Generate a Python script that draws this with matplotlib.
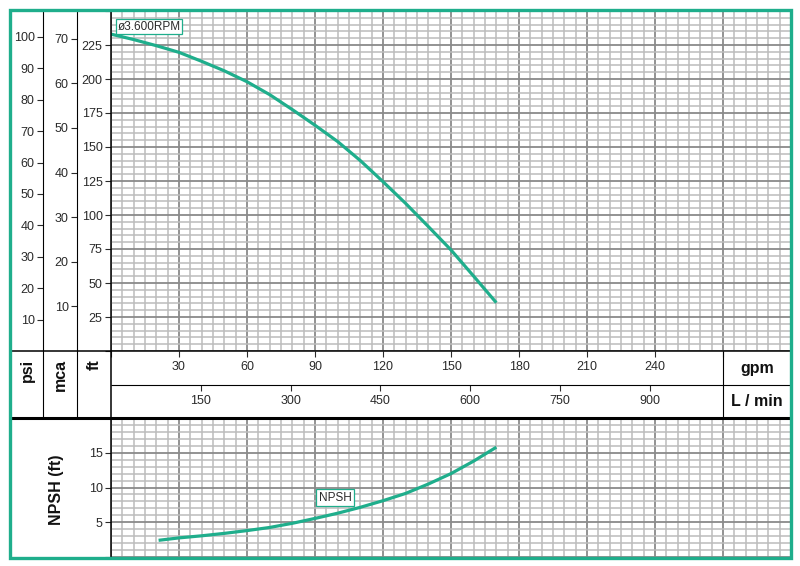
import matplotlib
matplotlib.use("Agg")
import matplotlib.pyplot as plt
from matplotlib.lines import Line2D
from matplotlib.patches import Rectangle
from matplotlib.ticker import MultipleLocator, FuncFormatter

plt.rcParams['font.family'] = ['Liberation Sans', 'DejaVu Sans']

# pump curve (flow in gpm, head in ft)
head_gpm = [0, 10, 20, 30, 40, 50, 60, 70, 80, 90, 100, 110, 120, 130, 140, 150, 160, 170]
head_ft = [233, 229, 224.5, 219.6, 213, 206, 198, 188.5, 177.5, 166, 154, 140, 124.5,
           108.5, 91.5, 74.3, 55, 35.5]
curve_label = "ø3.600RPM"

# NPSH curve (flow in gpm, NPSH in ft)
npsh_gpm = [21, 30, 40, 50, 60, 70, 80, 90, 100, 110, 120, 130, 140, 150, 160, 170]
npsh_ft = [2.4, 2.75, 3.05, 3.4, 3.8, 4.25, 4.85, 5.55, 6.3, 7.15, 8.1, 9.15, 10.5,
           12.0, 13.8, 15.8]

gpm_ticks = [30, 60, 90, 120, 150, 180, 210, 240]
lmin_ticks = [150, 300, 450, 600, 750, 900]
ft_ticks = [25, 50, 75, 100, 125, 150, 175, 200, 225]
psi_ticks = [10, 20, 30, 40, 50, 60, 70, 80, 90, 100]
mca_ticks = [10, 20, 30, 40, 50, 60, 70]
npsh_ticks = [5, 10, 15]

FT_PER_PSI = 2.31
FT_PER_M = 3.281
L_PER_GAL = 3.785

GREEN = '#1fae8c'
TXT = '#2a2a2a'
TICKSIZE = 9
W, H = 800, 566

fig = plt.figure(figsize=(8, 5.66), dpi=100)


def box(x0, y0, x1, y1):
    # pixel box (top-left origin) -> figure fraction rect
    return [x0 / W, 1 - y1 / H, (x1 - x0) / W, (y1 - y0) / H]


def fline(x0, y0, x1, y1, lw=0.8, color='black'):
    fig.add_artist(Line2D([x0 / W, x1 / W], [1 - y0 / H, 1 - y1 / H],
                          lw=lw, color=color, transform=fig.transFigure,
                          solid_capstyle='butt', zorder=5))


def graph_paper(ax, ymajor, yminor):
    ax.xaxis.set_major_locator(MultipleLocator(30))
    ax.xaxis.set_minor_locator(MultipleLocator(5))
    ax.yaxis.set_major_locator(MultipleLocator(ymajor))
    ax.yaxis.set_minor_locator(MultipleLocator(yminor))
    ax.grid(which='minor', color='#bcbcbc', lw=1.1)
    ax.grid(which='major', color='#8a8a8a', lw=1.3)
    ax.set_axisbelow(True)
    ax.tick_params(which='minor', length=0)
    for s in ax.spines.values():
        s.set_visible(False)


def keep(vals):
    return FuncFormatter(lambda v, p: f"{v:g}" if round(v) in vals else "")


# head panel
ax = fig.add_axes(box(111, 11, 791, 351))
ax.set_xlim(0, 300)
ax.set_ylim(0, 250)
graph_paper(ax, 25, 5)
ax.xaxis.set_major_formatter(keep(gpm_ticks))
ax.yaxis.set_major_formatter(keep(ft_ticks))
ax.tick_params(which='major', length=4, width=0.8, colors=TXT, labelsize=TICKSIZE, pad=2)
ax.tick_params(axis='x', pad=3)
ax.plot(head_gpm, head_ft, color=GREEN, lw=2.3, solid_capstyle='butt', zorder=3)
ax.text(16.7, 238.6, curve_label, ha='center', va='center', fontsize=8.5, color=TXT,
        zorder=4, bbox=dict(boxstyle='square,pad=0.15', fc='white', ec=GREEN, lw=0.9))

psi = ax.secondary_yaxis((43 - 111) / 680, functions=(lambda f: f / FT_PER_PSI,
                                                      lambda p: p * FT_PER_PSI))
psi.set_yticks(psi_ticks)
mca = ax.secondary_yaxis((77 - 111) / 680, functions=(lambda f: f / FT_PER_M,
                                                      lambda m: m * FT_PER_M))
mca.set_yticks(mca_ticks)
lmin = ax.secondary_xaxis((351 - 385) / 340, functions=(lambda g: g * L_PER_GAL,
                                                        lambda l: l / L_PER_GAL))
lmin.set_xticks(lmin_ticks)
for sa in (psi, mca, lmin):
    sa.tick_params(length=4, width=0.8, colors=TXT, labelsize=TICKSIZE, pad=2)
    for s in sa.spines.values():
        s.set_visible(False)
lmin.tick_params(pad=3)

# NPSH panel
ax2 = fig.add_axes(box(111, 418, 791, 557))
ax2.set_xlim(0, 300)
ax2.set_ylim(0, 20)
graph_paper(ax2, 5, 1)
ax2.xaxis.set_major_formatter(FuncFormatter(lambda v, p: ""))
ax2.yaxis.set_major_formatter(keep(npsh_ticks))
ax2.tick_params(axis='x', which='major', length=0)
ax2.tick_params(axis='y', which='major', length=4, width=0.8, colors=TXT,
                labelsize=TICKSIZE, pad=2)
ax2.plot(npsh_gpm, npsh_ft, color=GREEN, lw=2.3, solid_capstyle='butt', zorder=3)
ax2.text(98.8, 8.56, "NPSH", ha='center', va='center', fontsize=8.5, color=TXT, zorder=4,
         bbox=dict(boxstyle='square,pad=0.25', fc='white', ec=GREEN, lw=0.9))

# table lines
fline(43, 10, 43, 418)
fline(77, 10, 77, 418)
fline(111, 10, 111, 558, lw=1.1)
fline(10, 351, 791, 351, lw=1.1)
fline(111, 385, 791, 385)
fline(723, 351, 723, 418)
fline(10, 418, 791, 418, lw=2.2)

# unit labels
for x, s in [(27, "psi"), (60, "mca"), (94, "ft")]:
    fig.text(x / W, 1 - 359 / H, s, rotation=90, ha='center', va='top',
             fontsize=11.5, fontweight='bold', color='#111')
fig.text(757 / W, 1 - 368 / H, "gpm", ha='center', va='center',
         fontsize=11.5, fontweight='bold', color='#111')
fig.text(757 / W, 1 - 401 / H, "L / min", ha='center', va='center',
         fontsize=11.5, fontweight='bold', color='#111')
fig.text(57 / W, 1 - 490 / H, "NPSH (ft)", rotation=90, ha='center', va='center',
         fontsize=11.5, fontweight='bold', color='#111')

# green frame
fig.add_artist(Rectangle((9.5 / W, 1 - 558 / H), (791 - 9.5) / W, (558 - 9.5) / H,
                         fill=False, ec=GREEN, lw=2.4, transform=fig.transFigure, zorder=10))

fig.savefig("out.png", dpi=100)
